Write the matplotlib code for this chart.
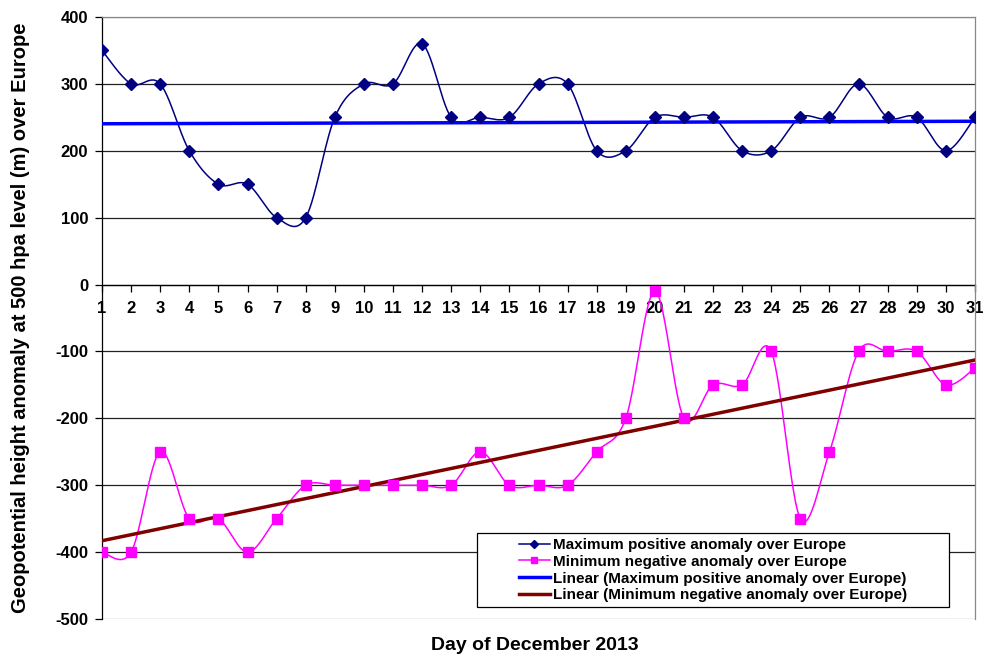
import matplotlib
matplotlib.use('Agg')
import matplotlib.pyplot as plt
from matplotlib.patches import Rectangle
import numpy as np

plt.rcParams['font.family'] = ['Liberation Sans', 'DejaVu Sans']
plt.rcParams['font.weight'] = 'bold'
plt.rcParams['axes.unicode_minus'] = False

days = list(range(1, 32))
max_positive = [350, 300, 300, 200, 150, 150, 100, 100, 250, 300, 300, 360, 250, 250, 250, 300,
                300, 200, 200, 250, 250, 250, 200, 200, 250, 250, 300, 250, 250, 200, 250]
min_negative = [-400, -400, -250, -350, -350, -400, -350, -300, -300, -300, -300, -300, -300, -250, -300, -300,
                -300, -250, -200, -10, -200, -150, -150, -100, -350, -250, -100, -100, -100, -150, -125]
y_ticks = [400, 300, 200, 100, 0, -100, -200, -300, -400, -500]

label_max = 'Maximum positive anomaly over Europe'
label_min = 'Minimum negative anomaly over Europe'


def smooth(x, y, n=30):
    # Excel-like smoothed line: cubic Bezier through the points (Catmull-Rom tangents)
    x = np.asarray(x, float)
    y = np.asarray(y, float)
    px = np.concatenate([[x[0]], x, [x[-1]]])
    py = np.concatenate([[y[0]], y, [y[-1]]])
    t = np.linspace(0, 1, n)[:, None]
    xs, ys = [], []
    for i in range(1, len(px) - 2):
        p0 = np.array([px[i], py[i]])
        p3 = np.array([px[i + 1], py[i + 1]])
        c1 = p0 + (p3 - np.array([px[i - 1], py[i - 1]])) / 6
        c2 = p3 - (np.array([px[i + 2], py[i + 2]]) - p0) / 6
        b = (1 - t) ** 3 * p0 + 3 * (1 - t) ** 2 * t * c1 + 3 * (1 - t) * t ** 2 * c2 + t ** 3 * p3
        xs.append(b[:, 0])
        ys.append(b[:, 1])
    return np.concatenate(xs), np.concatenate(ys)


fig = plt.figure(figsize=(9.84, 6.55), dpi=100)
ax = fig.add_axes([102 / 984, 1 - 619 / 655, 873 / 984, 602 / 655])

# gridlines
for v in y_ticks:
    c = '#888888' if v in (400, -500) else '#222222'
    ax.axhline(v, color=c, lw=0.9, zorder=1)

sx, sy = smooth(days, max_positive)
ax.plot(sx, sy, color='#000080', lw=1.1, zorder=3)
ax.plot(days, max_positive, ls='none', marker='D', ms=6, color='#000080', zorder=4)

sx, sy = smooth(days, min_negative)
ax.plot(sx, sy, color='#FF00FF', lw=1.1, zorder=3)
ax.plot(days, min_negative, ls='none', marker='s', ms=6.5, color='#FF00FF', zorder=4)

d = np.array(days, float)
k1, b1 = np.polyfit(d, max_positive, 1)
k2, b2 = np.polyfit(d, min_negative, 1)
ax.plot(d, k1 * d + b1, color='#0000FF', lw=2.5, zorder=3.5)
ax.plot(d, k2 * d + b2, color='#800000', lw=2.5, zorder=3.5)

ax.set_xlim(1, 31)
ax.set_ylim(-500, 400)
ax.set_yticks(y_ticks)
ax.set_xticks(days)

ax.spines['bottom'].set_position(('data', 0))
ax.spines['bottom'].set_color('black')
ax.spines['left'].set_color('black')
ax.spines['top'].set_color('#888888')
ax.spines['right'].set_color('#888888')
for s in ax.spines.values():
    s.set_linewidth(0.9)
ax.spines['bottom'].set_zorder(2)

ax.tick_params(axis='x', direction='out', length=5, width=0.9, pad=7, labelsize=12)
ax.tick_params(axis='y', direction='out', length=5, width=0.9, pad=5, labelsize=12)
for lab in ax.get_xticklabels() + ax.get_yticklabels():
    lab.set_fontweight('bold')

ax.set_ylabel('Geopotential height anomaly at 500 hpa level (m) over Europe',
              fontsize=14.5, fontweight='bold')
ax.yaxis.set_label_coords(-72 / 873, 0.5)
fig.text(535 / 984, 1 - 645 / 655, 'Day of December 2013', fontsize=14, fontweight='bold',
         ha='center', va='center')

# legend frame
ax.add_patch(Rectangle(((477 - 102) / 873, (619 - 607) / 602), (949 - 477) / 873, (607 - 533) / 602,
                       transform=ax.transAxes, facecolor='white', edgecolor='black', lw=0.9, zorder=6))
h1, = ax.plot([], [], color='#000080', lw=1.1, marker='D', ms=4.5)
h2, = ax.plot([], [], color='#FF00FF', lw=1.1, marker='s', ms=5)
h3, = ax.plot([], [], color='#0000FF', lw=2.5)
h4, = ax.plot([], [], color='#800000', lw=2.5)
leg = ax.legend([h1, h2, h3, h4],
                [label_max, label_min,
                 'Linear (' + label_max + ')', 'Linear (' + label_min + ')'],
                loc='upper left', bbox_to_anchor=((519 - 102) / 873, (619 - 538) / 602),
                frameon=False, borderpad=0, borderaxespad=0, handlelength=2.0,
                handletextpad=0.2, labelspacing=0.18, prop={'size': 11, 'weight': 'bold'})
leg.set_zorder(7)

fig.savefig('out.png', dpi=100)
